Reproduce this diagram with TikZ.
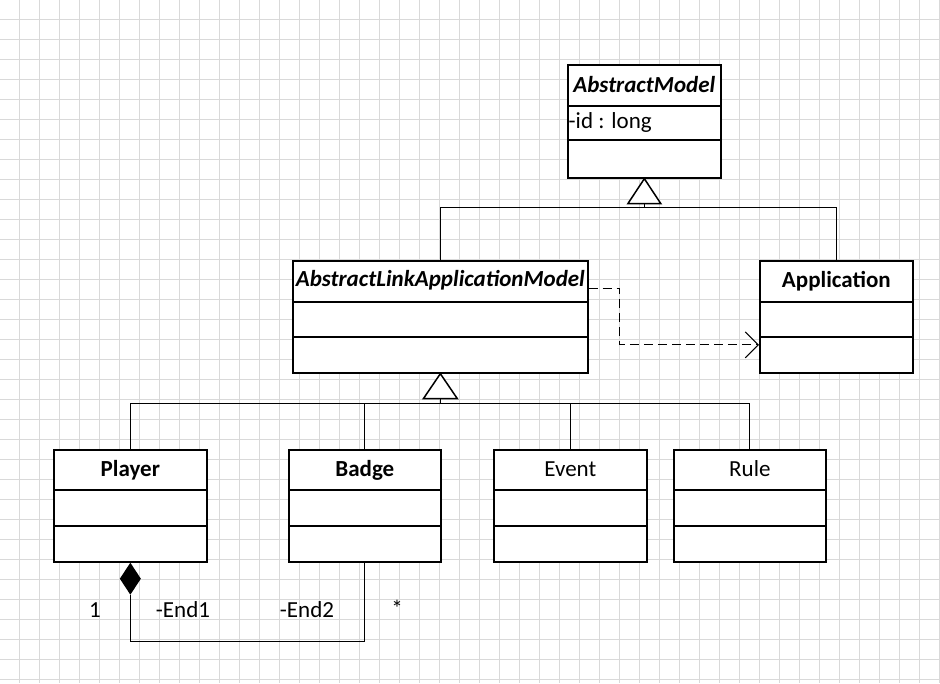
\documentclass[tikz,border=0pt]{standalone}
\usepackage{fontspec}
\setmainfont{Carlito}
\usetikzlibrary{arrows.meta,calc}
\begin{document}
\begin{tikzpicture}[x=1pt,y=-1pt,
  umlbox/.style={draw=black,line width=1.7pt,fill=white,inner sep=0pt,anchor=north west},
  cname/.style={font=\fontsize{23}{27}\selectfont\bfseries,anchor=base,inner sep=0pt},
  aname/.style={font=\fontsize{23}{27}\selectfont\bfseries\itshape,anchor=base,inner sep=0pt},
  pname/.style={font=\fontsize{23}{27}\selectfont,anchor=base,inner sep=0pt},
  lbl/.style={font=\fontsize{23}{27}\selectfont,anchor=base,inner sep=0pt},
  divider/.style={line width=1.7pt},
  conn/.style={line width=1pt,draw=black},
  dep/.style={line width=1pt,draw=black,dash pattern=on 9pt off 5pt,-{Straight Barb[length=13pt,width=26pt,line width=1pt]}},
  gridline/.style={draw=black!15,line width=0.9pt}]
\useasboundingbox (0,0) rectangle (940,683);
\fill[white] (0,0) rectangle (940,683);
\foreach \g in {0,...,46} {\draw[gridline] (19.5+20*\g,0) -- (19.5+20*\g,683);}
\foreach \g in {0,...,33} {\draw[gridline] (0,19.5+20*\g) -- (940,19.5+20*\g);}

% classes
\node[umlbox,minimum width=153pt,minimum height=113pt] (am) at (567,64) {};
\node[aname] (amt) at ($(am.north)+(0,28)$) {AbstractModel};
\draw[divider] ($(am.north west)+(0,42)$) -- ($(am.north east)+(0,42)$);
\draw[divider] ($(am.north west)+(0,76)$) -- ($(am.north east)+(0,76)$);
\node[lbl,anchor=base west] (amattr) at ($(am.north west)+(1.5,64)$) {-id : long};

\node[umlbox,minimum width=295pt,minimum height=112pt] (alam) at (292,260) {};
\node[aname] (alamt) at ($(alam.north)+(0,26)$) {AbstractLinkApplicationModel};
\draw[divider] ($(alam.north west)+(0,42)$) -- ($(alam.north east)+(0,42)$);
\draw[divider] ($(alam.north west)+(0,77)$) -- ($(alam.north east)+(0,77)$);

\node[umlbox,minimum width=153pt,minimum height=112pt] (app) at (759,260) {};
\node[cname] (appt) at ($(app.north)+(0,27)$) {Application};
\draw[divider] ($(app.north west)+(0,42)$) -- ($(app.north east)+(0,42)$);
\draw[divider] ($(app.north west)+(0,77)$) -- ($(app.north east)+(0,77)$);

\node[umlbox,minimum width=153pt,minimum height=112pt] (player) at (53,449) {};
\node[cname] (playert) at ($(player.north)+(0,27)$) {Player};
\draw[divider] ($(player.north west)+(0,41)$) -- ($(player.north east)+(0,41)$);
\draw[divider] ($(player.north west)+(0,77)$) -- ($(player.north east)+(0,77)$);

\node[umlbox,minimum width=152pt,minimum height=112pt] (badge) at (288,449) {};
\node[cname] (badget) at ($(badge.north)+(0,27)$) {Badge};
\draw[divider] ($(badge.north west)+(0,41)$) -- ($(badge.north east)+(0,41)$);
\draw[divider] ($(badge.north west)+(0,77)$) -- ($(badge.north east)+(0,77)$);

\node[umlbox,minimum width=153pt,minimum height=112pt] (event) at (493,449) {};
\node[pname] (eventt) at ($(event.north)+(0,27)$) {Event};
\draw[divider] ($(event.north west)+(0,41)$) -- ($(event.north east)+(0,41)$);
\draw[divider] ($(event.north west)+(0,77)$) -- ($(event.north east)+(0,77)$);

\node[umlbox,minimum width=152pt,minimum height=112pt] (rule) at (673,449) {};
\node[pname] (rulet) at ($(rule.north)+(0,27)$) {Rule};
\draw[divider] ($(rule.north west)+(0,41)$) -- ($(rule.north east)+(0,41)$);
\draw[divider] ($(rule.north west)+(0,77)$) -- ($(rule.north east)+(0,77)$);

% generalization to AbstractModel
\coordinate (j1) at ($(am.south)+(0,29)$);
\draw[conn] (alam.north) |- (j1) -| (app.north);
\draw[conn] (j1) -- ($(am.south)+(0,25)$);
\draw[conn,fill=white,line width=1.5pt,line join=miter] (am.south) -- ++(16.5,25) -- ++(-33,0) -- cycle;

% generalization to AbstractLinkApplicationModel
\coordinate (j2) at ($(alam.south)+(0,30)$);
\draw[conn] (player.north) |- (j2) -| (rule.north);
\draw[conn] (badge.north) -- (badge.north |- j2);
\draw[conn] (event.north) -- (event.north |- j2);
\draw[conn] (j2) -- ($(alam.south)+(0,25)$);
\draw[conn,fill=white,line width=1.5pt,line join=miter] (alam.south) -- ++(17,25) -- ++(-34,0) -- cycle;

% dependency
\draw[dep] ($(alam.north east)+(0,28)$) -- ++(31,0) |- ($(app.west)+(0,28)$);

% composition
\fill[black] (player.south) -- ++(10.5,16) -- ++(-10.5,16) -- ++(-10.5,-16) -- cycle;
\draw[conn] ($(player.south)+(0,32)$) |- ($(badge.south)+(0,79)$) -- (badge.south);
\node[lbl] (m1) at (95,617) {1};
\node[lbl] (e1) at (183,617) {-End1};
\node[lbl] (e2) at (307,617) {-End2};
\node[lbl] (m2) at (397,616) {*};
\end{tikzpicture}
\end{document}
